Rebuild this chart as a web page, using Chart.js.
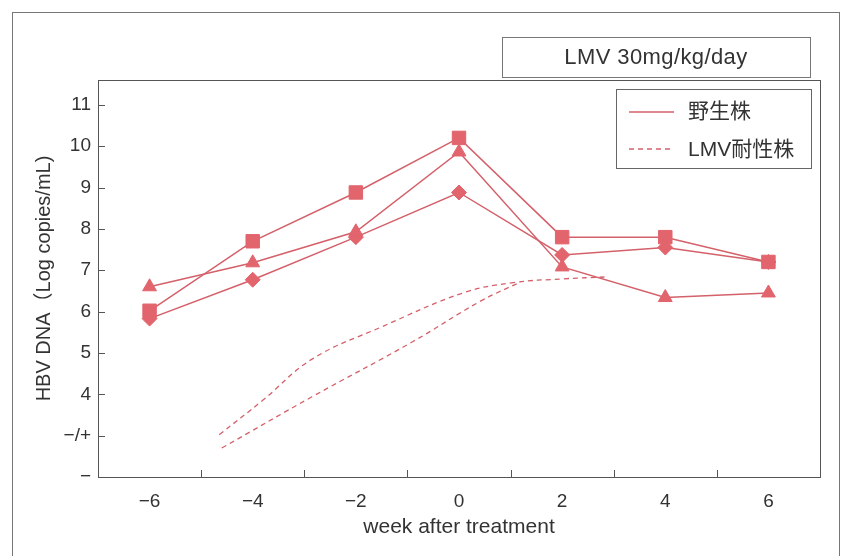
<!DOCTYPE html>
<html>
<head>
<meta charset="utf-8">
<script src="https://cdn.jsdelivr.net/npm/chart.js@4"></script>
<style>
  html, body { margin: 0; padding: 0; background: #fff; }
  #wrap { width: 843px; height: 556px; position: relative; }
</style>
</head>
<body>
<div id="wrap"><canvas id="hbvChart" width="843" height="556"></canvas></div>
<script>
// data
const weeks = [-6, -4, -2, 0, 2, 4, 6];
const wildSquare = [6.02, 7.7, 8.88, 10.2, 7.8, 7.8, 7.2];
const wildTriangle = [6.6, 7.18, 7.93, 9.86, 7.08, 6.34, 6.45];
const wildDiamond = [5.83, 6.77, 7.8, 8.88, 7.37, 7.55, 7.2];
const resistantAWeeks = [-4.65, -3.8, -2.85, -1.5, 0.1, 1.05, 2.0, 2.9];
const resistantAValues = [3.02, 3.86, 4.85, 5.63, 6.46, 6.7, 6.79, 6.84];
const resistantBWeeks = [-4.6, -2.85, -0.9, 0.4, 1.2];
const resistantBValues = [2.7, 3.94, 5.27, 6.24, 6.72];
const yTickLabels = { 2: '\u2212', 3: '\u2212/+' };
const chartTitle = 'LMV 30mg/kg/day';
const legendLabels = ['野生株', 'LMV耐性株'];

const lineColor = '#d4606a';
const markColor = '#e2646c';
const axisColor = '#555';
const textColor = '#333';
const fontFamily = "'Liberation Sans', Arial, sans-serif";
const narrowFamily = "'Liberation Sans Narrow', 'Liberation Sans', sans-serif";
const cjkFamily = "'Liberation Sans', 'Noto Sans CJK JP', sans-serif";

function toPoints(xs, ys) {
  return xs.map((x, i) => ({ x: x, y: ys[i] }));
}

function solidSet(values, style, radius) {
  return {
    data: toPoints(weeks, values),
    borderColor: lineColor,
    borderWidth: 1.5,
    pointStyle: style,
    pointRadius: radius,
    pointBackgroundColor: markColor,
    pointBorderColor: markColor,
    pointBorderWidth: 1,
    tension: 0,
  };
}

function dashedSet(xs, ys) {
  return {
    data: toPoints(xs, ys),
    borderColor: lineColor,
    borderWidth: 1.3,
    borderDash: [5, 4],
    pointRadius: 0,
    tension: 0.4,
  };
}

// frames, title box, legend box and inward tick marks
const decorations = {
  id: 'decorations',
  afterDraw(chart) {
    const ctx = chart.ctx;
    const area = chart.chartArea;
    const xs = chart.scales.x;
    const ys = chart.scales.y;
    ctx.save();
    ctx.strokeStyle = '#777';
    ctx.lineWidth = 1;
    // outer frame
    ctx.strokeRect(12.5, 12.5, 827, 560);
    // title box
    ctx.fillStyle = '#fff';
    ctx.fillRect(502, 37, 308, 40);
    ctx.strokeRect(502.5, 37.5, 308, 40);
    ctx.fillStyle = textColor;
    ctx.font = '22px ' + fontFamily;
    ctx.letterSpacing = '0.4px';
    ctx.textAlign = 'center';
    ctx.textBaseline = 'middle';
    ctx.fillText(chartTitle, 656, 58);
    ctx.letterSpacing = '0px';
    // plot frame
    ctx.strokeStyle = axisColor;
    ctx.strokeRect(area.left + 0.5, area.top + 0.5, area.right - area.left, area.bottom - area.top);
    // inward ticks
    ctx.beginPath();
    for (let v = 3; v <= 11; v++) {
      const py = Math.round(ys.getPixelForValue(v)) + 0.5;
      ctx.moveTo(area.left, py);
      ctx.lineTo(area.left + 7, py);
    }
    for (let w = -5; w <= 5; w += 2) {
      const px = Math.round(xs.getPixelForValue(w)) + 0.5;
      ctx.moveTo(px, area.bottom);
      ctx.lineTo(px, area.bottom - 7);
    }
    ctx.stroke();
    // legend box
    ctx.strokeStyle = '#666';
    ctx.fillStyle = '#fff';
    ctx.fillRect(616, 89, 195, 79);
    ctx.strokeRect(616.5, 89.5, 195, 79);
    ctx.strokeStyle = lineColor;
    ctx.lineWidth = 1.5;
    ctx.beginPath();
    ctx.moveTo(629, 112);
    ctx.lineTo(674, 112);
    ctx.stroke();
    ctx.lineWidth = 1.3;
    ctx.setLineDash([5, 4]);
    ctx.beginPath();
    ctx.moveTo(629, 149);
    ctx.lineTo(674, 149);
    ctx.stroke();
    ctx.setLineDash([]);
    ctx.fillStyle = textColor;
    ctx.font = '21px ' + cjkFamily;
    ctx.textAlign = 'left';
    ctx.textBaseline = 'middle';
    ctx.fillText(legendLabels[0], 688, 112);
    ctx.fillText(legendLabels[1], 688, 150);
    ctx.restore();
  },
};

const ctx = document.getElementById('hbvChart');
new Chart(ctx, {
  type: 'line',
  data: {
    datasets: [
      solidSet(wildSquare, 'rect', 9.5),
      solidSet(wildTriangle, 'triangle', 8),
      solidSet(wildDiamond, 'rectRot', 7.5),
      dashedSet(resistantAWeeks, resistantAValues),
      dashedSet(resistantBWeeks, resistantBValues),
    ],
  },
  options: {
    responsive: false,
    animation: false,
    events: [],
    layout: { padding: { top: 80, right: 23, left: 0, bottom: 0 } },
    plugins: {
      legend: { display: false },
      title: { display: false },
      tooltip: { enabled: false },
    },
    scales: {
      x: {
        type: 'linear',
        min: -7,
        max: 7,
        afterFit: (scale) => { scale.height = 79; },
        grid: { display: false, drawTicks: false },
        border: { display: false },
        ticks: {
          stepSize: 1,
          padding: 13,
          color: textColor,
          font: { family: fontFamily, size: 19 },
          callback: (v) => (v % 2 === 0 ? String(v).replace('-', '\u2212') : ''),
        },
        title: {
          display: true,
          text: 'week after treatment',
          color: textColor,
          font: { family: narrowFamily, size: 21 },
          padding: { top: 0, bottom: 16 },
        },
      },
      y: {
        min: 2,
        max: 11.6,
        afterFit: (scale) => { scale.width = 98; },
        grid: { display: false, drawTicks: false },
        border: { display: false },
        ticks: {
          stepSize: 1,
          padding: 7,
          color: textColor,
          font: { family: fontFamily, size: 19 },
          callback: (v) => (v > 11 ? '' : (yTickLabels[v] || String(v))),
        },
        title: {
          display: true,
          text: 'HBV DNA（Log copies/mL)',
          color: textColor,
          font: { family: cjkFamily, size: 20 },
          padding: { top: 32, bottom: 0 },
        },
      },
    },
  },
  plugins: [decorations],
});
</script>
</body>
</html>
